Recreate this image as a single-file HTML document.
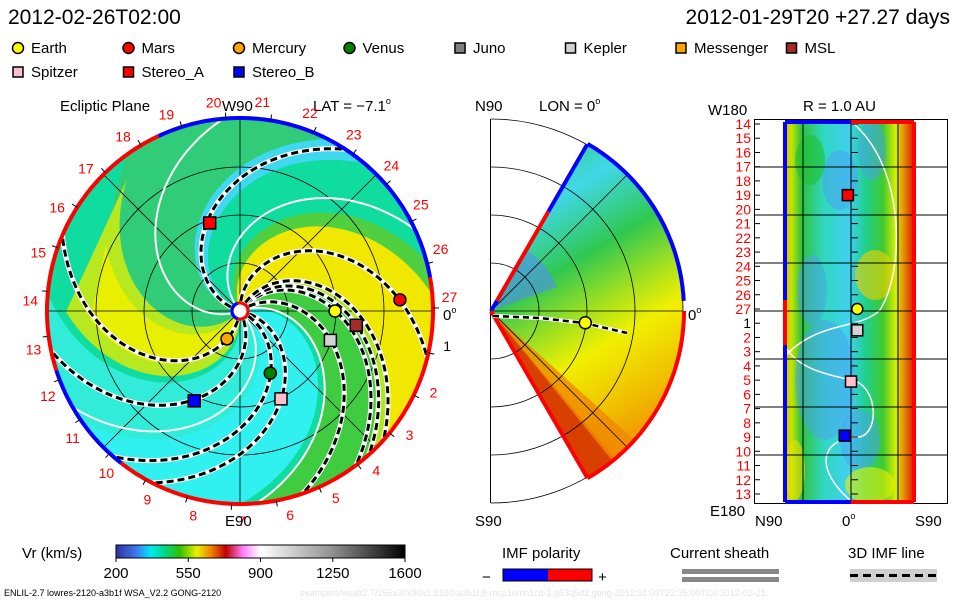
<!DOCTYPE html>
<html><head><meta charset="utf-8">
<style>
html,body{margin:0;padding:0;background:#fff;}
svg{display:block;font-family:"Liberation Sans",sans-serif;}
</style></head>
<body>
<svg id="chart" width="960" height="600" viewBox="0 0 960 600" xmlns="http://www.w3.org/2000/svg">
<defs>
  <clipPath id="mainClip"><circle cx="240" cy="311" r="192"/></clipPath>
  <clipPath id="midClip"><rect x="491" y="100" width="300" height="410"/></clipPath>
  <clipPath id="rightClip"><rect x="785" y="122" width="129" height="380"/></clipPath>
  <linearGradient id="cbar" x1="0" x2="1" y1="0" y2="0">
    <stop offset="0" stop-color="#3030a0"/><stop offset="0.07" stop-color="#3c78f0"/>
    <stop offset="0.12" stop-color="#00e8f0"/><stop offset="0.17" stop-color="#00d880"/>
    <stop offset="0.22" stop-color="#30c000"/><stop offset="0.28" stop-color="#e8f000"/>
    <stop offset="0.33" stop-color="#f08000"/><stop offset="0.38" stop-color="#c00000"/>
    <stop offset="0.44" stop-color="#ff80ff"/><stop offset="0.5" stop-color="#ffffff"/>
    <stop offset="0.75" stop-color="#909090"/><stop offset="1" stop-color="#000000"/>
  </linearGradient>
  <linearGradient id="midGrad" x1="0" y1="0" x2="0.35" y2="1">
    <stop offset="0" stop-color="#30c850"/><stop offset="0.25" stop-color="#40d8e8"/>
    <stop offset="0.45" stop-color="#30c850"/><stop offset="0.6" stop-color="#a0e020"/>
    <stop offset="0.72" stop-color="#f0f000"/><stop offset="0.9" stop-color="#f0c000"/>
    <stop offset="1" stop-color="#f0a000"/>
  </linearGradient>
  <linearGradient id="rightGrad" x1="0" x2="1" y1="0" y2="0">
    <stop offset="0" stop-color="#e8b000"/><stop offset="0.05" stop-color="#c0e800"/>
    <stop offset="0.13" stop-color="#30c040"/><stop offset="0.3" stop-color="#30d8c0"/>
    <stop offset="0.5" stop-color="#40d0f0"/><stop offset="0.62" stop-color="#20d090"/>
    <stop offset="0.76" stop-color="#40c830"/><stop offset="0.86" stop-color="#d8f000"/>
    <stop offset="0.95" stop-color="#e86000"/><stop offset="1" stop-color="#d02000"/>
  </linearGradient>
</defs>

<text x="8" y="24" font-size="21">2012-02-26T02:00</text>
<text x="950" y="24" font-size="21" text-anchor="end">2012-01-29T20 +27.27 days</text>

<g id="legend"></g>

<g>
  <text x="60" y="111" font-size="15">Ecliptic Plane</text>
  <text x="313" y="111" font-size="15">LAT = −7.1<tspan dy="-7" font-size="9">o</tspan></text>
  <circle cx="240" cy="311" r="192" fill="#10dca0"/>
  <g id="mainField" clip-path="url(#mainClip)"></g>
  <g id="mainGrid" clip-path="url(#mainClip)"></g>
  <g id="mainArms" clip-path="url(#mainClip)"></g>
  <g id="mainBorder"></g>
  <g id="mainLabels"></g>
  <g id="mainPlanets"></g>
  <text x="222" y="111" font-size="15">W90</text>
  <text x="225" y="526" font-size="15">E90</text>
  <text x="443" y="320" font-size="15">0<tspan dy="-7" font-size="9">o</tspan></text>
</g>

<g>
  <text x="475" y="111" font-size="15">N90</text>
  <text x="539" y="111" font-size="15">LON = 0<tspan dy="-7" font-size="9">o</tspan></text>
  <text x="475" y="526" font-size="15">S90</text>
  <text x="688" y="320" font-size="15">0<tspan dy="-7" font-size="9">o</tspan></text>
  <g id="mid"></g>
</g>

<g>
  <text x="803" y="111" font-size="15">R = 1.0 AU</text>
  <text x="708" y="115" font-size="15">W180</text>
  <text x="710" y="516" font-size="15">E180</text>
  <text x="755" y="526" font-size="15">N90</text>
  <text x="842" y="526" font-size="15">0<tspan dy="-7" font-size="9">o</tspan></text>
  <text x="915" y="526" font-size="15">S90</text>
  <g id="right"></g>
</g>

<g>
  <text x="22" y="558" font-size="15">Vr (km/s)</text>
  <rect x="116" y="545" width="289" height="13" fill="url(#cbar)" stroke="#000" stroke-width="1"/>
  <g id="cbarTicks"></g>
</g>
<g>
  <text x="502" y="558" font-size="15">IMF polarity</text>
  <rect x="503" y="569" width="45" height="12" fill="#0000ff"/>
  <rect x="548" y="569" width="44" height="12" fill="#ff0000"/>
  <rect x="503" y="569" width="89" height="12" fill="none" stroke="#000"/>
  <text x="482" y="582" font-size="15">−</text>
  <text x="598" y="582" font-size="15">+</text>
</g>
<g>
  <text x="670" y="558" font-size="15">Current sheath</text>
  <rect x="682" y="569" width="97" height="5" fill="#888"/>
  <rect x="682" y="577" width="97" height="5" fill="#888"/>
</g>
<g>
  <text x="848" y="558" font-size="15">3D IMF line</text>
  <rect x="850" y="569" width="87" height="13" fill="#d0d0d0"/>
  <line x1="850" y1="575.5" x2="937" y2="575.5" stroke="#000" stroke-width="3" stroke-dasharray="8,5"/>
</g>
<text x="4" y="596" font-size="9">ENLIL-2.7 lowres-2120-a3b1f WSA_V2.2 GONG-2120</text>
<text x="300" y="596" font-size="9" fill="#e4e4e4">examples/wsafr2.7/256x30x90x1.2120-a3b1f.8-mcp1umn1cd-1.g53q5d2.gong-2012:01:09T22:35:00TC0    2012-02-21</text>
</svg>

<script>
// ---- data ----
const legendNames = ["Earth","Mars","Mercury","Venus","Juno","Kepler","Messenger","MSL","Spitzer","Stereo_A","Stereo_B"];
const legendColors = ["#ffff00","#ff0000","#ffa500","#007f00","#808080","#d3d3d3","#ffa500","#a52a2a","#ffc0cb","#ff0000","#0000ff"];
const legendShapes = ["circle","circle","circle","circle","square","square","square","square","square","square","square"];

const bodyNames = ["Earth","Mars","Mercury","Venus","Kepler","MSL","Spitzer","Stereo_A","Stereo_B"];
const bodyAngle = [0, 4, -115, -64, -18, -7, -65, 109, -117];
const bodyRadius = [0.99, 1.67, 0.32, 0.72, 0.99, 1.22, 1.01, 0.97, 1.05];
const bodyColors = ["#ffff00","#ff0000","#ffa500","#007f00","#d3d3d3","#a52a2a","#ffc0cb","#ff0000","#0000ff"];
const bodyShapes = ["circle","circle","circle","circle","square","square","square","square","square"];

const armStarts = [162, 91, 52, 34, 57, 63, -12, -26, -63, -98];
const sheathStarts = [130, 20, -45, 200];
const regionStart = [168, 155, 55, 62, 110, 20, -40, -80, -135, -125];
const regionEnd =   [230, 168, 62, 110, 120, 55, 15, -40, -85, -95];
const regionRmax =  [240, 240, 240, 240, 240, 240, 240, 240, 175, 150];
const regionColor = ["#30cc78","#40d8f0","#b0e820","#f0e800","#50d040","#40cc40","#30f0f0","#30ecd8","#b8e820","#e8f000"];

const dayLabels = [14,15,16,17,18,19,20,21,22,23,24,25,26,27,1,2,3,4,5,6,7,8,9,10,11,12,13];
const rightBodies = ["Stereo_A","Earth","Kepler","Spitzer","Stereo_B"];
const rightDay = [19, 27, 1.5, 5.1, 8.9];
const rightLat = [-2, 4, 4, 0, -4];
const rightColors = ["#ff0000","#ffff00","#d3d3d3","#ffc0cb","#0000ff"];
const rightShapes = ["square","circle","square","square","square"];

const cbarTicks = [200, 550, 900, 1250, 1600];

// ---- helpers ----
const NS = "http://www.w3.org/2000/svg";
function mk(tag, attrs, parent) {
  const e = document.createElementNS(NS, tag);
  for (const k in attrs) e.setAttribute(k, attrs[k]);
  if (parent) parent.appendChild(e);
  return e;
}
const CX = 240, CY = 311, AU = 96, K = 0.0095;
function polar(cx, cy, r, deg) { const a = deg * Math.PI / 180; return [cx + r * Math.cos(a), cy - r * Math.sin(a)]; }
function spiralPts(phi0, r0, r1) {
  const p = [];
  for (let r = r0; r <= r1; r += 3) {
    const a = phi0 * Math.PI / 180 - K * r;
    p.push([CX + r * Math.cos(a), CY - r * Math.sin(a)]);
  }
  return p;
}
function ptsStr(p) { return p.map(q => q[0].toFixed(1) + "," + q[1].toFixed(1)).join(" "); }
function marker(g, shape, x, y, color, size) {
  if (shape === "circle") return mk("circle", {cx: x, cy: y, r: size, fill: color, stroke: "#000", "stroke-width": 1.5}, g);
  return mk("rect", {x: x - size, y: y - size, width: 2 * size, height: 2 * size, fill: color, stroke: "#000", "stroke-width": 1.5}, g);
}
function arcPath(cx, cy, r, a0, a1) {
  const p = [];
  for (let a = a0; a <= a1 + 0.01; a += 1) p.push(polar(cx, cy, r, a));
  return "M" + p.map(q => q[0].toFixed(1) + "," + q[1].toFixed(1)).join("L");
}

// ---- legend ----
const lg = document.getElementById("legend");
legendNames.forEach((n, i) => {
  const row = i < 8 ? 0 : 1, col = i < 8 ? i : i - 8;
  const x = 18 + col * 110.5, y = row ? 72 : 48;
  const m = marker(lg, legendShapes[i], x, y, legendColors[i], legendShapes[i] === "circle" ? 5.5 : 5);
  
  
  const t = mk("text", {x: x + 13, y: y + 5, "font-size": 15}, lg);
  t.textContent = n;
  
  
});

// ---- main field ----
const mf = document.getElementById("mainField");
regionStart.forEach((a, i) => {
  const rm = regionRmax[i];
  const p = spiralPts(a, 0, rm).concat(spiralPts(regionEnd[i], 0, rm).reverse());
  const e = mk("polygon", {points: ptsStr(p), fill: regionColor[i], "stroke-linejoin": "round"}, mf);
  
  
});

// ---- main grid ----
const mg = document.getElementById("mainGrid");
[0.5, 1, 1.5, 2].forEach(r => {
  const c = mk("circle", {cx: CX, cy: CY, r: r * AU, fill: "none", stroke: "#000", "stroke-width": 0.8}, mg);
  
  
});
[0, 45, 90, 135].forEach(a => {
  const p0 = polar(CX, CY, 192, a), p1 = polar(CX, CY, 192, a + 180);
  const l = mk("line", {x1: p0[0], y1: p0[1], x2: p1[0], y2: p1[1], stroke: "#000", "stroke-width": 0.8}, mg);
  
  
});

// ---- arms ----
const ma = document.getElementById("mainArms");
sheathStarts.forEach(a => {
  const e = mk("polyline", {points: ptsStr(spiralPts(a, 10, 240)), fill: "none", stroke: "#fff", "stroke-width": 2}, ma);
  
  
});
armStarts.forEach(a => {
  const pts = ptsStr(spiralPts(a, 10, 240));
  const w = mk("polyline", {points: pts, fill: "none", stroke: "#fff", "stroke-width": 5}, ma);
  
  
  const d = mk("polyline", {points: pts, fill: "none", stroke: "#000", "stroke-width": 3, "stroke-dasharray": "7,4"}, ma);
  
  
});

// ---- border ----
const mb = document.getElementById("mainBorder");
[[10, 115, "#0000ff"], [115, 198, "#ff0000"], [198, 232, "#0000ff"], [232, 370, "#ff0000"]].forEach(s => {
  const e = mk("path", {d: arcPath(CX, CY, 193, s[0], s[1]), fill: "none", stroke: s[2], "stroke-width": 4}, mb);
  
  
});
const sunR = mk("circle", {cx: CX, cy: CY, r: 8, fill: "#fff", stroke: "#ff0000", "stroke-width": 3}, mb);


const sunB = mk("path", {d: arcPath(CX, CY, 8, 110, 250), fill: "none", stroke: "#0000ff", "stroke-width": 3}, mb);



// ---- day labels ----
const ml = document.getElementById("mainLabels");
for (let n = 1; n <= 27; n++) {
  const ang = 0.8 - 13.33 * n;
  const t0 = polar(CX, CY, 193, ang), t1 = polar(CX, CY, 199, ang), tp = polar(CX, CY, 210, ang + 3);
  const tk = mk("line", {x1: t0[0], y1: t0[1], x2: t1[0], y2: t1[1], stroke: "#000", "stroke-width": 1}, ml);
  
  
  const t = mk("text", {x: tp[0], y: tp[1] + 5, "font-size": 14, "text-anchor": "middle", fill: n === 1 ? "#000" : "#ff0000"}, ml);
  t.textContent = n;
  
  
}

// ---- planets ----
const mp = document.getElementById("mainPlanets");
bodyNames.forEach((n, i) => {
  const p = polar(CX, CY, bodyRadius[i] * AU, bodyAngle[i]);
  const m = marker(mp, bodyShapes[i], p[0], p[1], bodyColors[i], 6);
  
  
});

// ---- meridional ----
const MX = 491, MY = 311;
const md = document.getElementById("mid");
function wedge(r0, r1, a0, a1) {
  const pA = [], pB = [];
  for (let a = a0; a <= a1; a += 1) { pA.push(polar(MX, MY, r1, a)); pB.push(polar(MX, MY, r0, a)); }
  return "M" + pA.concat(pB.reverse()).map(q => q[0].toFixed(1) + "," + q[1].toFixed(1)).join("L") + "Z";
}
let e = mk("path", {d: wedge(0, 192, -60, 60), fill: "url(#midGrad)"}, md);


e = mk("path", {d: wedge(0, 192, -60, -50), fill: "#d84000"}, md);


e = mk("path", {d: wedge(0, 192, -51, -42), fill: "#f08800", opacity: 0.8}, md);


e = mk("path", {d: wedge(0, 70, 20, 60), fill: "#5090f0", opacity: 0.6}, md);


const mgrid = mk("g", {"clip-path": "url(#midClip)"}, md);
[48, 96, 144, 192].forEach(r => {
  const c = mk("circle", {cx: MX, cy: MY, r: r, fill: "none", stroke: "#000", "stroke-width": 0.8}, mgrid);
  
  
});
[45, -45, 0].forEach(a => {
  const p = polar(MX, MY, 192, a);
  const l = mk("line", {x1: MX, y1: MY, x2: p[0], y2: p[1], stroke: "#000", "stroke-width": 0.8}, md);
  
  
});
e = mk("line", {x1: 490.5, y1: 119, x2: 490.5, y2: 503, stroke: "#000", "stroke-width": 1}, md);


[[3, 60, "#0000ff"], [-60, 0, "#ff0000"]].forEach(s => {
  const b = mk("path", {d: arcPath(MX, MY, 193, s[0], s[1]), fill: "none", stroke: s[2], "stroke-width": 4}, md);
  
  
});
[[0, 12, "#0000ff"], [12, 115, "#ff0000"], [115, 192, "#0000ff"]].forEach(s => {
  const p0 = polar(MX, MY, s[0], 60), p1 = polar(MX, MY, s[1], 60);
  const b = mk("line", {x1: p0[0], y1: p0[1], x2: p1[0], y2: p1[1], stroke: s[2], "stroke-width": 4}, md);
  
  
});
{
  const p1 = polar(MX, MY, 193, -60);
  const b = mk("line", {x1: MX, y1: MY, x2: p1[0], y2: p1[1], stroke: "#ff0000", "stroke-width": 4}, md);
  
  
}
{
  const pts = [[493, 316], [540, 318], [584, 323], [627, 333]];
  const s = pts.map(q => q.join(",")).join(" ");
  let l = mk("polyline", {points: s, fill: "none", stroke: "#fff", "stroke-width": 4}, md);
  
  
  l = mk("polyline", {points: s, fill: "none", stroke: "#000", "stroke-width": 2.5, "stroke-dasharray": "6,4"}, md);
  
  
  const p = polar(MX, MY, bodyRadius[0] * AU, -7.1);
  const m = marker(md, "circle", p[0], p[1], "#ffff00", 6);
  
  
}

// ---- right panel ----
const rg = document.getElementById("right");
const dayY = i => 124 + i * 14.23;
const dayIdx = d => (d >= 14 ? d - 14 : d + 13);
const latX = l => 851 + l * 1.567;
e = mk("rect", {x: 754.5, y: 119.5, width: 193, height: 384, fill: "#fff", stroke: "#000", "stroke-width": 1}, rg);


const rf = mk("g", {"clip-path": "url(#rightClip)"}, rg);
e = mk("rect", {x: 785, y: 122, width: 129, height: 380, fill: "url(#rightGrad)"}, rf);


[[840, 180, 18, 30], [825, 380, 30, 60], [812, 290, 15, 35], [872, 150, 14, 30], [860, 440, 20, 30]].forEach(b => {
  const el = mk("ellipse", {cx: b[0], cy: b[1], rx: b[2], ry: b[3], fill: "#4aa0f0", opacity: 0.5}, rf);
  
  
});
[[875, 275, 20, 25, "#f0d000"], [870, 485, 25, 18, "#e8f000"], [795, 470, 10, 30, "#e8e000"], [810, 160, 15, 25, "#20c030"]].forEach(b => {
  const el = mk("ellipse", {cx: b[0], cy: b[1], rx: b[2], ry: b[3], fill: b[4], opacity: 0.6}, rf);
  
  
});
e = mk("path", {d: "M855,125 C905,170 905,270 880,310 C860,330 820,320 786,355", fill: "none", stroke: "#fff", "stroke-width": 1.5}, rf);


e = mk("path", {d: "M786,348 C800,370 830,375 851,380 C880,385 880,440 855,437 C820,440 815,470 850,500", fill: "none", stroke: "#fff", "stroke-width": 1.5}, rf);


[803, 851, 898].forEach(x => {
  const l = mk("line", {x1: x, y1: 120, x2: x, y2: 503, stroke: "#000", "stroke-width": 1}, rg);
  
  
});
[167, 215, 263, 311, 359, 407, 455].forEach(y => {
  const l = mk("line", {x1: 755, y1: y, x2: 947, y2: y, stroke: "#000", "stroke-width": 1}, rg);
  
  
});
dayLabels.forEach((d, i) => {
  const y = dayY(i);
  const t = mk("text", {x: 751, y: y + 5, "font-size": 14, "text-anchor": "end", fill: d === 1 ? "#000" : "#ff0000"}, rg);
  t.textContent = d;
  
  
  const tk = mk("line", {x1: 755, y1: y, x2: 760, y2: y, stroke: "#000"}, rg);
  
  
  const ck = mk("line", {x1: 851, y1: y, x2: 858, y2: y, stroke: "#000"}, rg);
  
  
});
[[785, 122, 851, 122, "#0000ff"], [851, 122, 914, 122, "#ff0000"], [785, 502, 851, 502, "#0000ff"], [851, 502, 914, 502, "#ff0000"],
 [914, 122, 914, 502, "#ff0000"], [785, 122, 785, 300, "#0000ff"], [785, 300, 785, 345, "#ff0000"], [785, 345, 785, 502, "#0000ff"]].forEach(s => {
  const l = mk("line", {x1: s[0], y1: s[1], x2: s[2], y2: s[3], stroke: s[4], "stroke-width": 4}, rg);
  
  
});
rightBodies.forEach((n, i) => {
  const m = marker(rg, rightShapes[i], latX(rightLat[i]), dayY(dayIdx(rightDay[i])), rightColors[i], 5.5);
  
  
});

// ---- colorbar ticks ----
const ct = document.getElementById("cbarTicks");
cbarTicks.forEach(v => {
  const x = 116 + (v - 200) / 1400 * 289;
  const l = mk("line", {x1: x, y1: 558, x2: x, y2: 562, stroke: "#000"}, ct);
  
  
  const t = mk("text", {x: x, y: 578, "font-size": 15, "text-anchor": "middle"}, ct);
  t.textContent = v;
  
  
});
</script>
</body></html>
